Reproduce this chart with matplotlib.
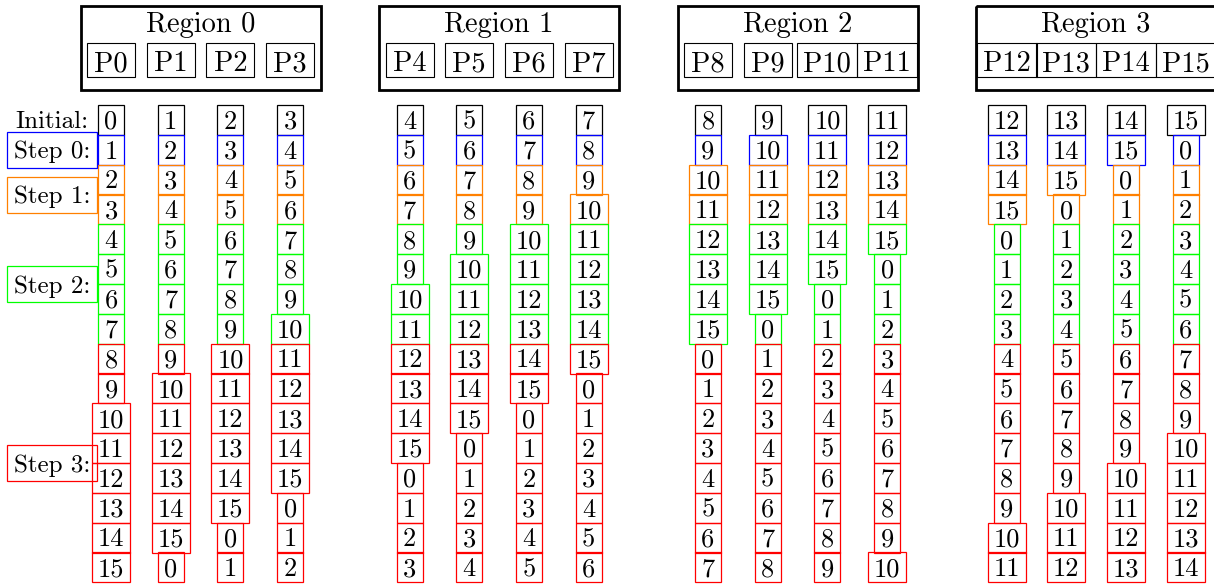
import matplotlib.pyplot as plt
from matplotlib.patches import Rectangle

plt.rcParams['font.family'] = ['cmr10', 'DejaVu Serif']

regions = ["Region 0", "Region 1", "Region 2", "Region 3"]
procs = [["P0", "P1", "P2", "P3"],
         ["P4", "P5", "P6", "P7"],
         ["P8", "P9", "P10", "P11"],
         ["P12", "P13", "P14", "P15"]]

# chunk held by each process, top row = initial
cols = [
    [0, 1, 2, 3, 4, 5, 6, 7, 8, 9, 10, 11, 12, 13, 14, 15],
    [1, 2, 3, 4, 5, 6, 7, 8, 9, 10, 11, 12, 13, 14, 15, 0],
    [2, 3, 4, 5, 6, 7, 8, 9, 10, 11, 12, 13, 14, 15, 0, 1],
    [3, 4, 5, 6, 7, 8, 9, 10, 11, 12, 13, 14, 15, 0, 1, 2],
    [4, 5, 6, 7, 8, 9, 10, 11, 12, 13, 14, 15, 0, 1, 2, 3],
    [5, 6, 7, 8, 9, 10, 11, 12, 13, 14, 15, 0, 1, 2, 3, 4],
    [6, 7, 8, 9, 10, 11, 12, 13, 14, 15, 0, 1, 2, 3, 4, 5],
    [7, 8, 9, 10, 11, 12, 13, 14, 15, 0, 1, 2, 3, 4, 5, 6],
    [8, 9, 10, 11, 12, 13, 14, 15, 0, 1, 2, 3, 4, 5, 6, 7],
    [9, 10, 11, 12, 13, 14, 15, 0, 1, 2, 3, 4, 5, 6, 7, 8],
    [10, 11, 12, 13, 14, 15, 0, 1, 2, 3, 4, 5, 6, 7, 8, 9],
    [11, 12, 13, 14, 15, 0, 1, 2, 3, 4, 5, 6, 7, 8, 9, 10],
    [12, 13, 14, 15, 0, 1, 2, 3, 4, 5, 6, 7, 8, 9, 10, 11],
    [13, 14, 15, 0, 1, 2, 3, 4, 5, 6, 7, 8, 9, 10, 11, 12],
    [14, 15, 0, 1, 2, 3, 4, 5, 6, 7, 8, 9, 10, 11, 12, 13],
    [15, 0, 1, 2, 3, 4, 5, 6, 7, 8, 9, 10, 11, 12, 13, 14],
]

step_labels = ["Initial:", "Step 0:", "Step 1:", "Step 2:", "Step 3:"]
step_colors = ["black", "#0000ff", "#ff8000", "#00ff00", "#ff0000"]
row_step = [0, 1, 2, 2, 3, 3, 3, 3, 4, 4, 4, 4, 4, 4, 4, 4]

FS_HEAD = 20.5
FS_CELL = 19
FS_LAB = 18
x0, dx = 111, 59.7
y0, dy = 120, 29.83
boxh = 30

fig = plt.figure(figsize=(12.14, 5.86), dpi=100)
ax = fig.add_axes([0, 0, 1, 1])
ax.set_xlim(0, 1214)
ax.set_ylim(586, 0)
ax.axis('off')


def box(xc, yc, w, h, color, lw=0.9):
    ax.add_patch(Rectangle((xc - w / 2, yc - h / 2), w, h, fill=False,
                           edgecolor=color, lw=lw))


def xpos(p):
    r, j = divmod(p, 4)
    return x0 + dx * (5 * r + j)


# region headers
for r in range(4):
    xs = [xpos(4 * r + j) for j in range(4)]
    xm = sum(xs) / 4
    box(xm, 48, 240, 84, "black", lw=2)
    ax.text(xm, 32, regions[r], fontsize=FS_HEAD, ha='center', va='baseline')
    for j in range(4):
        name = procs[r][j]
        w = 48 if len(name) == 2 else 60
        box(xs[j], 60, w, 34, "black", lw=0.8)
        ax.text(xs[j], 71, name, fontsize=FS_HEAD, ha='center', va='baseline')

# chunk columns
for k in range(16):
    for p in range(16):
        v = str(cols[p][k])
        w = 26 if len(v) == 1 else 38
        xc = xpos(p)
        yc = y0 + dy * k
        box(xc, yc, w, boxh, step_colors[row_step[k]])
        ax.text(xc, yc + 8.8, v, fontsize=FS_CELL, ha='center', va='baseline')

# step labels on the left
for s, lab in enumerate(step_labels):
    rows = [k for k in range(16) if row_step[k] == s]
    yc = y0 + dy * sum(rows) / len(rows)
    if s > 0:
        box(52, yc, 90, 36, step_colors[s])
    ax.text(52, yc + 8.5, lab, fontsize=FS_LAB, ha='center', va='baseline')

fig.savefig("out.png", dpi=100)
